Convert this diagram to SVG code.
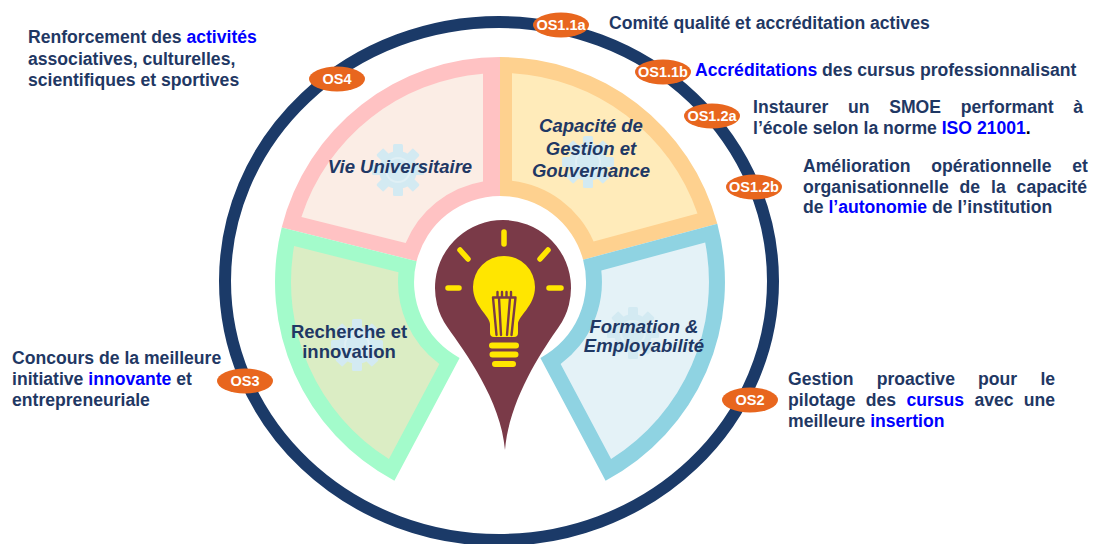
<svg xmlns="http://www.w3.org/2000/svg" xmlns:xlink="http://www.w3.org/1999/xlink" width="1093" height="544" viewBox="0 0 1093 544">
<style>
.t{font-family:"Liberation Sans",Arial,sans-serif;font-weight:bold;font-size:17.6px;fill:#1f3864}
.hl{fill:#0000ff}
.seg{font-family:"Liberation Sans",Arial,sans-serif;font-weight:bold;font-size:18.5px;fill:#1f3864;text-anchor:middle}
.it{font-style:italic}
.os{fill:#e8661e}
.ost{font-family:"Liberation Sans",Arial,sans-serif;font-weight:bold;font-size:14.5px;fill:#ffffff;text-anchor:middle}
.ray{stroke:#ffe600;stroke-width:5.5;stroke-linecap:round;fill:none}
.bar{stroke:#ffe600;stroke-width:6;stroke-linecap:round;fill:none}
.fil{stroke:#7a3a48;stroke-width:2.4;fill:none;stroke-linecap:round}
</style>
<defs>
<g id="gear">
<circle r="19" fill="#d3eaf2"/>
<g fill="#d3eaf2">
<rect x="-5" y="-26" width="10" height="9" rx="1.5"/>
<rect x="-5" y="-26" width="10" height="9" rx="1.5" transform="rotate(45)"/>
<rect x="-5" y="-26" width="10" height="9" rx="1.5" transform="rotate(90)"/>
<rect x="-5" y="-26" width="10" height="9" rx="1.5" transform="rotate(135)"/>
<rect x="-5" y="-26" width="10" height="9" rx="1.5" transform="rotate(180)"/>
<rect x="-5" y="-26" width="10" height="9" rx="1.5" transform="rotate(225)"/>
<rect x="-5" y="-26" width="10" height="9" rx="1.5" transform="rotate(270)"/>
<rect x="-5" y="-26" width="10" height="9" rx="1.5" transform="rotate(315)"/>
</g>
<circle r="12" fill="none" stroke="#e0f0f5" stroke-width="2"/>
</g>
</defs>
<rect width="1093" height="544" fill="#ffffff"/>

<g id="connectors">
<ellipse id="ring" cx="499" cy="281" rx="274" ry="259" fill="none" stroke="#1b3a68" stroke-width="12"/>
</g>

<g id="seg-gestion">
<path d="M 500 57 A 225 225 0 0 1 717.3 223.8 L 583.1 259.7 A 86 86 0 0 0 500 196 Z" fill="#fed18f"/>
<path d="M 512 73.3 A 209 209 0 0 1 697.5 213.6 L 593.6 241.4 A 102 102 0 0 0 512 180.7 Z" fill="#ffebba"/>
<use xlink:href="#gear" x="588" y="162"/>
<text class="seg it"><tspan x="591" y="132">Capacité de</tspan><tspan x="591" y="154.5">Gestion et</tspan><tspan x="591" y="177">Gouvernance</tspan></text>
</g>

<g id="seg-vie">
<path d="M 281.7 227.6 A 225 225 0 0 1 500 57 L 500 196 A 86 86 0 0 0 416.6 261.2 Z" fill="#ffc2c3"/>
<path d="M 301.4 217 A 209 209 0 0 1 483 73.7 L 483 181.4 A 102 102 0 0 0 405.7 243 Z" fill="#fbede5"/>
<use xlink:href="#gear" x="398" y="170"/>
<text class="seg it" x="400" y="173">Vie Universitaire</text>
</g>

<g id="seg-formation">
<path d="M 717.3 223.8 A 225 225 0 0 1 605.6 480.7 L 540.4 357.9 A 86 86 0 0 0 583.1 259.7 Z" fill="#8fd3e2"/>
<path d="M 705.2 242.5 A 209 209 0 0 1 611.1 459 L 560.6 364 A 102 102 0 0 0 601.3 270.4 Z" fill="#e4f2f7"/>
<use xlink:href="#gear" x="633" y="333"/>
<text class="seg it"><tspan x="644" y="333">Formation &amp;</tspan><tspan x="644" y="352">Employabilité</tspan></text>
</g>

<g id="seg-recherche">
<path d="M 394.4 480.7 A 225 225 0 0 1 281.7 227.6 L 416.6 261.2 A 86 86 0 0 0 459.6 357.9 Z" fill="#a3fbcb"/>
<path d="M 388.9 459 A 209 209 0 0 1 294.1 246.1 L 398.5 272.2 A 102 102 0 0 0 439.4 364 Z" fill="#dbedc4"/>
<use xlink:href="#gear" x="357" y="345"/>
<text class="seg"><tspan x="349" y="338">Recherche et</tspan><tspan x="349" y="358">innovation</tspan></text>
</g>

<g id="bulb">
<path d="M 447.3 327 A 68 68 0 1 1 558.7 327 C 541.5 351.6 509 400 505 450 C 501 400 464.5 351.6 447.3 327 Z" fill="#7a3a48"/>
<path d="M 490 333 L 490 324 C 490 316 473 306 473 287 A 31 31 0 1 1 535 287 C 535 306 518 316 518 324 L 518 333 Q 518 337 514 337 L 494 337 Q 490 337 490 333 Z" fill="#ffe600"/>
<path class="fil" d="M 493 297.5 L 496.5 335 M 515.5 297.5 L 511.5 335 M 493 297.5 L 515.5 297.5 M 497.5 297.5 L 497.5 292 M 502 297.5 L 502 292 M 506.5 297.5 L 506.5 292 M 511 297.5 L 511 292 M 499 298 L 501 335 M 510 298 L 507 335"/>
<path class="bar" d="M 492 345.5 L 516 345.5 M 492.5 354.5 L 515.5 354.5 M 495 364 L 513 364"/>
<path class="ray" d="M 504 232 L 504 244 M 460 250 L 468 259 M 548 250 L 540 259 M 448 288 L 459 288 M 549 288 L 561 288"/>
</g>

<g id="os11a"><ellipse class="os" cx="561" cy="25" rx="28" ry="12.5"/><text class="ost" x="561" y="30">OS1.1a</text></g>
<g id="os11b"><ellipse class="os" cx="663" cy="72" rx="28" ry="12.5"/><text class="ost" x="663" y="77">OS1.1b</text></g>
<g id="os12a"><ellipse class="os" cx="712" cy="116" rx="28" ry="12.5"/><text class="ost" x="712" y="121">OS1.2a</text></g>
<g id="os12b"><ellipse class="os" cx="754" cy="187" rx="28" ry="12.5"/><text class="ost" x="754" y="192">OS1.2b</text></g>
<g id="os2"><ellipse class="os" cx="750" cy="400" rx="28" ry="12.5"/><text class="ost" x="750" y="405">OS2</text></g>
<g id="os3"><ellipse class="os" cx="245" cy="381" rx="28" ry="12.5"/><text class="ost" x="245" y="386">OS3</text></g>
<g id="os4"><ellipse class="os" cx="337" cy="79" rx="28" ry="12.5"/><text class="ost" x="337" y="84">OS4</text></g>

<g id="label-os4">
<text class="t"><tspan x="28" y="43">Renforcement des <tspan class="hl">activités</tspan></tspan><tspan x="28" y="64.5">associatives, culturelles,</tspan><tspan x="28" y="86">scientifiques et sportives</tspan></text>
</g>
<g id="label-os3">
<text class="t"><tspan x="12" y="364">Concours de la meilleure</tspan><tspan x="12" y="385">initiative <tspan class="hl">innovante</tspan> et</tspan><tspan x="12" y="406">entrepreneuriale</tspan></text>
</g>
<g id="label-os11a">
<text class="t" x="609" y="29">Comité qualité et accréditation actives</text>
</g>
<g id="label-os11b">
<text class="t" x="695" y="76"><tspan class="hl">Accréditations</tspan> des cursus professionnalisant</text>
</g>
<g id="label-os12a">
<text class="t"><tspan x="753" y="113">Instaurer</tspan><tspan x="848" y="113">un</tspan><tspan x="889.2" y="113">SMOE</tspan><tspan x="960.7" y="113">performant</tspan><tspan x="1073.3" y="113">à</tspan><tspan x="753" y="134">l’école selon la norme <tspan class="hl">ISO 21001</tspan><tspan fill="#000000">.</tspan></tspan></text>
</g>
<g id="label-os12b">
<text class="t"><tspan x="803" y="172">Amélioration</tspan><tspan x="931.3" y="172">opérationnelle</tspan><tspan x="1072.3" y="172">et</tspan><tspan x="803" y="192.5">organisationnelle</tspan><tspan x="959.6" y="192.5">de</tspan><tspan x="991" y="192.5">la</tspan><tspan x="1016.6" y="192.5">capacité</tspan><tspan x="803" y="213">de <tspan class="hl">l’autonomie</tspan> de l’institution</tspan></text>
</g>
<g id="label-os2">
<text class="t"><tspan x="788" y="385">Gestion</tspan><tspan x="876.7" y="385">proactive</tspan><tspan x="978.1" y="385">pour</tspan><tspan x="1040.4" y="385">le</tspan><tspan x="788" y="406">pilotage</tspan><tspan x="865.8" y="406">des</tspan><tspan x="906.4" y="406" class="hl">cursus</tspan><tspan x="974.4" y="406">avec</tspan><tspan x="1023.8" y="406">une</tspan><tspan x="788" y="427">meilleure <tspan class="hl">insertion</tspan></tspan></text>
</g>
</svg>
